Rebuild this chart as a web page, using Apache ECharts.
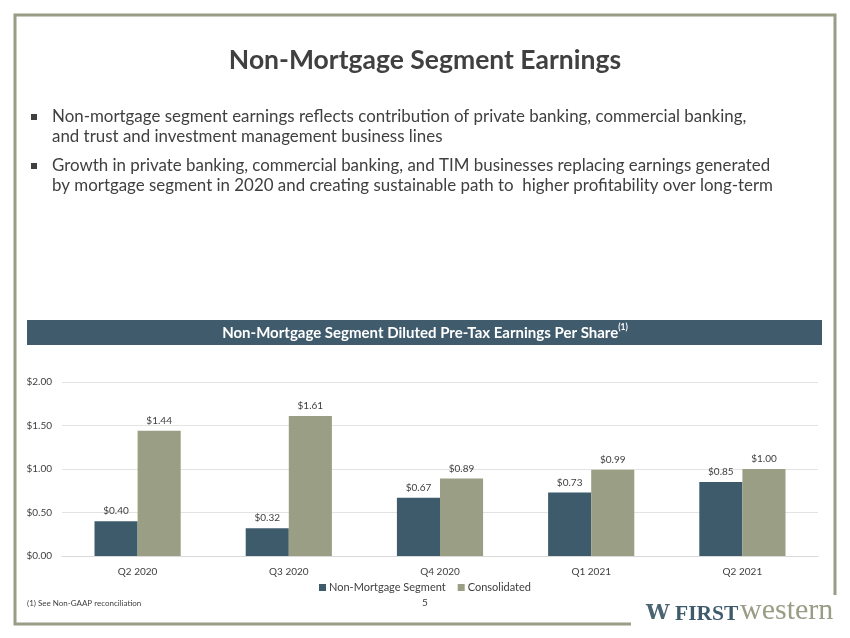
<!DOCTYPE html>
<html>
<head>
<meta charset="utf-8">
<script src="https://cdn.jsdelivr.net/npm/echarts@6/dist/echarts.min.js"></script>
<style>
html,body{margin:0;padding:0;background:#fff;}
#chart{width:850px;height:638px;}
</style>
</head>
<body>
<div id="chart"></div>
<script>
const categories = ['Q2 2020', 'Q3 2020', 'Q4 2020', 'Q1 2021', 'Q2 2021'];
const nonMortgage = [0.40, 0.32, 0.67, 0.73, 0.85];
const consolidated = [1.44, 1.61, 0.89, 0.99, 1.00];
const seriesNames = ['Non-Mortgage Segment', 'Consolidated'];
const yTicks = { min: 0, max: 2, interval: 0.5 };

const FONT = 'Lato, "Open Sans", sans-serif';
const money = v => '$' + Number(v).toFixed(2);
const frameColor = '#9a9c86';
const navy = '#3e5b6c';
const olive = '#9a9e84';

const chart = echarts.init(document.getElementById('chart'), null, { renderer: 'canvas' });
chart.setOption({
  backgroundColor: '#ffffff',
  textStyle: { fontFamily: FONT },
  animation: false,
  grid: { left: 62, right: 32, top: 382, bottom: 82, containLabel: false },
  legend: {
    data: seriesNames,
    bottom: 40,
    left: 'center',
    itemWidth: 7, itemHeight: 7, itemGap: 12,
    icon: 'rect',
    textStyle: { fontSize: 11, color: '#404040', fontFamily: FONT, padding: [0, 0, 0, -2] }
  },
  xAxis: {
    type: 'category',
    data: categories,
    axisLine: { lineStyle: { color: '#d9d9d9' } },
    axisTick: { show: false },
    axisLabel: { fontSize: 10, color: '#404040', margin: 11, fontFamily: FONT }
  },
  yAxis: {
    type: 'value',
    min: yTicks.min, max: yTicks.max, interval: yTicks.interval,
    axisLine: { show: false },
    axisTick: { show: false },
    splitLine: { lineStyle: { color: '#e3e3e3' } },
    axisLabel: { fontSize: 10, color: '#404040', margin: 10, formatter: money, fontFamily: FONT }
  },
  series: [
    {
      name: seriesNames[0], type: 'bar', data: nonMortgage,
      barGap: '0%', barCategoryGap: '43%',
      itemStyle: { color: navy },
      label: { show: true, position: 'top', distance: 5, fontSize: 10, color: '#404040', formatter: p => money(p.value), fontFamily: FONT }
    },
    {
      name: seriesNames[1], type: 'bar', data: consolidated,
      barGap: '0%', barCategoryGap: '43%',
      itemStyle: { color: olive },
      label: { show: true, position: 'top', distance: 5, fontSize: 10, color: '#404040', formatter: p => money(p.value), fontFamily: FONT }
    }
  ],
  graphic: [
    // frame
    { type: 'polyline', shape: { points: [[631, 624], [15, 624], [15, 15], [835, 15], [835, 595]] },
      style: { stroke: frameColor, lineWidth: 3, fill: null }, silent: true },
    // title
    { type: 'text', left: 'center', top: 47,
      style: { text: 'Non-Mortgage Segment Earnings', fontSize: 26.5, fontWeight: 'bold', fill: '#404040', fontFamily: FONT } },
    // bullets
    { type: 'rect', shape: { x: 31, y: 114, width: 6, height: 6 }, style: { fill: '#404040' } },
    { type: 'text', left: 52, top: 107,
      style: { text: 'Non-mortgage segment earnings reflects contribution of private banking, commercial banking,\nand trust and investment management business lines', fontSize: 16.9, lineHeight: 20, fill: '#404040', fontFamily: FONT } },
    { type: 'rect', shape: { x: 31, y: 163, width: 6, height: 6 }, style: { fill: '#404040' } },
    { type: 'text', left: 52, top: 156,
      style: { text: 'Growth in private banking, commercial banking, and TIM businesses replacing earnings generated\nby mortgage segment in 2020 and creating sustainable path to  higher profitability over long-term', fontSize: 16.9, lineHeight: 20, fill: '#404040', fontFamily: FONT } },
    // banner
    { type: 'rect', shape: { x: 27, y: 320, width: 795, height: 25 }, style: { fill: '#3f5b6c' } },
    { type: 'text', left: 'center', top: 323,
      style: {
        text: '{m|Non-Mortgage Segment Diluted Pre-Tax Earnings Per Share}{s|(1)}',
        rich: {
          m: { fontSize: 15, fontWeight: 'bold', fill: '#ffffff', fontFamily: FONT, verticalAlign: 'bottom', lineHeight: 18 },
          s: { fontSize: 8.5, fontWeight: 'bold', fill: '#ffffff', fontFamily: FONT, verticalAlign: 'top', lineHeight: 18 }
        }
      } },
    // footnote
    { type: 'text', left: 27, top: 599,
      style: { text: '(1) See Non-GAAP reconciliation', fontSize: 8, fill: '#404040', fontFamily: FONT } },
    { type: 'text', left: 422, top: 598,
      style: { text: '5', fontSize: 10, fill: '#404040', fontFamily: FONT } },
    // logo
    { type: 'text', left: 646, top: 603,
      style: { text: 'W', fontSize: 21, fontWeight: 'bold', fill: '#4a6472', fontFamily: '"DejaVu Serif", serif' } },
    { type: 'text', left: 675, top: 603,
      style: { text: 'FIRST', fontSize: 21.5, fontWeight: 'bold', fill: '#3e5b6c', fontFamily: '"Liberation Serif", serif' } },
    { type: 'text', left: 740, top: 596,
      style: { text: 'western', fontSize: 30, fill: '#9a9c86', fontFamily: '"Liberation Serif", serif' } }
  ]
});
</script>
</body>
</html>
